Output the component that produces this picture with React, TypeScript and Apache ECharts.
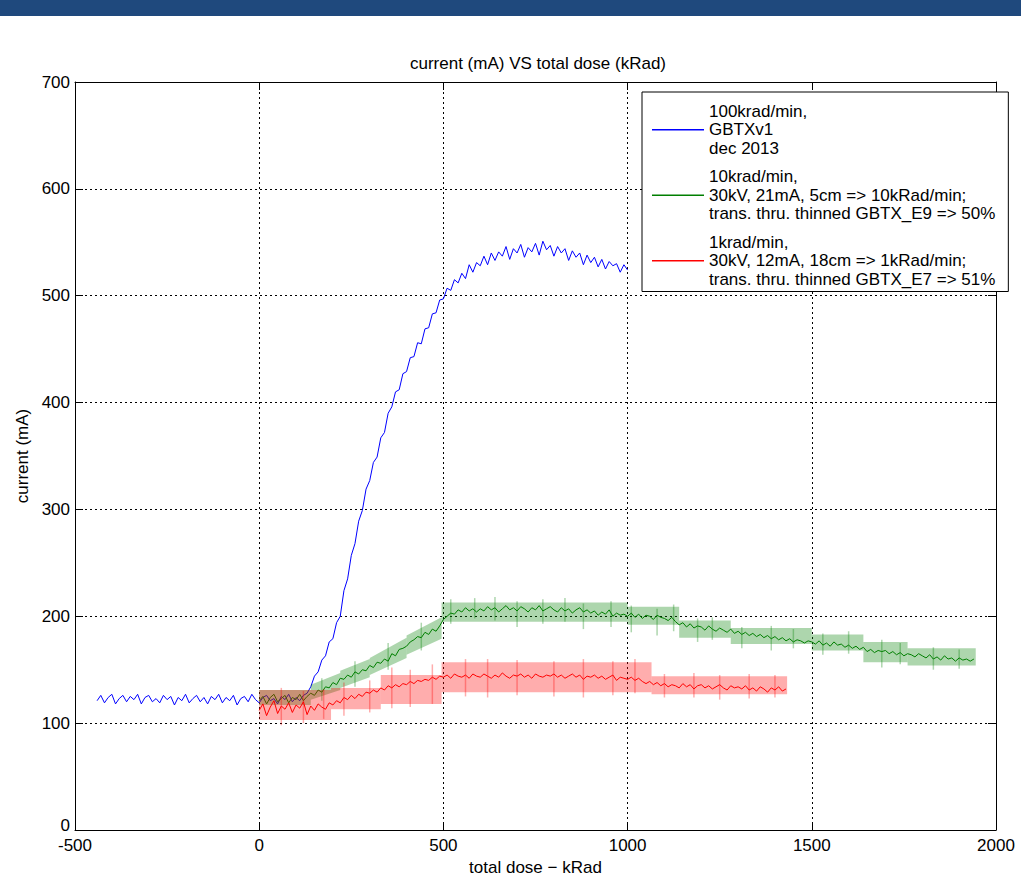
import React, { useEffect, useRef } from 'react';
import * as echarts from 'echarts';

const TITLE = 'current (mA) VS total dose (kRad)';
const X_NAME = 'total dose − kRad';
const Y_NAME = 'current (mA)';
const X_TICKS = [-500, 0, 500, 1000, 1500, 2000];
const Y_TICKS = [0, 100, 200, 300, 400, 500, 600, 700];

const SERIES_NAMES = [
  '100krad/min,\nGBTXv1\ndec 2013',
  '10krad/min,\n30kV, 21mA, 5cm => 10kRad/min;\ntrans. thru. thinned GBTX_E9 => 50%',
  '1krad/min,\n30kV, 12mA, 18cm => 1kRad/min;\ntrans. thru. thinned GBTX_E7 => 51%',
];
const COLORS = ['#0000ff', '#007f00', '#ff0000'];
const BAND_COLORS = ['rgba(0,128,0,0.32)', 'rgba(255,0,0,0.32)'];

// blue: 100krad/min, dose from -440 kRad in 10 kRad steps
const BLUE_START = -440;
const BLUE_STEP = 10;
const BLUE_CURRENT = [
  121, 126, 119, 124, 127, 118, 123, 126, 120, 125,
  122, 127, 118, 124, 126, 120, 123, 119, 126, 122,
  125, 117, 124, 121, 127, 119, 123, 126, 120, 124,
  118, 125, 122, 127, 119, 124, 121, 126, 117, 123,
  125, 120, 127, 122, 119, 124, 126, 121, 123, 118,
  125, 122, 127, 120, 124, 121, 126, 128,
  134, 144, 148, 159, 163, 176, 179, 194, 200, 224,
  235, 257, 268, 289, 299, 319, 327, 344, 349, 367,
  372, 390, 396, 410, 412, 427, 429, 442, 443, 456,
  455, 469, 470, 483, 484, 496, 497, 507, 505, 515,
  512, 521, 516, 529, 522, 531, 528, 537, 529, 540,
  533, 541, 537, 546, 534, 544, 540, 548, 536, 545,
  541, 549, 538, 551, 543, 547, 537, 546, 540, 544,
  533, 542, 536, 540, 529, 538, 531, 536, 527, 534,
  525, 532, 528, 530, 522, 529, 524,
];

// green: 10krad/min, dose from 0 kRad in 10 kRad steps
const GREEN_START = 0;
const GREEN_STEP = 10;
const GREEN_CURRENT = [
  121, 125, 118, 124, 127, 120, 123, 126, 119, 124,
  122, 127, 121, 125, 128, 126, 131, 129, 134, 133,
  138, 136, 142, 141, 145, 143, 148, 146, 150, 149,
  154, 152, 157, 156, 160, 158, 165, 163, 169, 170,
  172, 176, 178, 181, 180, 185, 183, 188, 186, 191,
  197, 200, 203, 202, 206, 204, 208, 205, 207, 204,
  207, 205, 209, 206, 208, 204, 207, 210, 206, 208,
  205, 209, 207, 204, 208, 206, 210, 205, 207, 209,
  206, 204, 208, 205, 207, 203, 206, 208, 204, 206,
  203, 205, 201, 204, 202, 206, 200, 203, 201, 202,
  200, 203, 199, 202, 198, 201, 200, 197, 201, 199,
  198, 196, 199, 195, 192, 194, 190, 193, 189, 191,
  190, 187, 191, 188, 186, 189, 187, 185, 188, 184,
  186, 183, 185, 182, 184, 181, 183, 180, 182, 179,
  181, 178, 180, 177, 179, 176, 178, 177, 175, 177,
  176, 174, 177, 173, 175, 172, 176, 173, 174, 171,
  173, 170, 172, 169, 171, 167, 169, 166, 168, 167,
  168, 165, 167, 164, 166, 163, 165, 164, 162, 165,
  163, 161, 164, 160, 162, 159, 163, 160, 161, 158,
  161, 159, 160, 158, 160,
];

// red: 1krad/min, dose from 0 kRad in 10 kRad steps
const RED_START = 0;
const RED_STEP = 10;
const RED_CURRENT = [
  112, 118, 107, 115, 121, 109, 116, 113, 119, 110,
  117, 114, 120, 108, 116, 112, 118, 115, 113, 119,
  117, 121, 119, 124, 122, 126, 123, 127, 125, 129,
  128, 131, 129, 133, 131, 135, 133, 136, 134, 137,
  136, 139, 137, 140, 139, 141, 140, 143, 141, 144,
  143, 145, 142, 146, 144, 143, 145, 142, 146, 144,
  143, 146, 144, 142, 145, 143, 147, 144, 142, 145,
  144, 146, 143, 145, 142, 146, 144, 143, 145, 144,
  146, 143, 145, 142, 144, 146, 143, 145, 141, 144,
  143, 145, 142, 144, 141, 143, 145, 140, 143, 142,
  141, 143, 140, 142, 139, 137, 139, 136, 138, 135,
  137, 134, 136, 135, 133, 137, 134, 136, 132, 135,
  136, 133, 135, 132, 134, 136, 133, 131, 135, 133,
  134, 132, 135, 131, 133, 130, 134, 132, 129, 133,
  131, 134, 130, 132,
];

// error bands: [dose from, dose to, low at from, high at from, low at to, high at to]
const GREEN_BAND = [
  [0, 140, 117, 131, 117, 131],
  [140, 220, 122, 136, 131, 147],
  [220, 300, 133, 149, 143, 160],
  [300, 400, 145, 161, 161, 180],
  [400, 495, 164, 182, 179, 199],
  [495, 1000, 195, 213, 195, 213],
  [1000, 1140, 192, 209, 192, 209],
  [1140, 1280, 180, 196, 180, 196],
  [1280, 1500, 174, 189, 174, 189],
  [1500, 1640, 168, 183, 168, 183],
  [1640, 1760, 157, 176, 157, 176],
  [1760, 1945, 154, 170, 154, 170],
];
const RED_BAND = [
  [0, 195, 103, 131, 103, 131],
  [195, 330, 113, 133, 113, 133],
  [330, 495, 118, 145, 118, 145],
  [495, 1065, 129, 157, 129, 157],
  [1065, 1433, 127, 144, 127, 144],
];
// single error bars sticking out of the bands: [dose, low, high]
const GREEN_SPIKES = [
  [170, 121, 142], [260, 134, 158], [350, 150, 175], [440, 168, 194], [520, 193, 216],
  [585, 198, 217], [640, 196, 218], [700, 190, 214], [770, 193, 216], [830, 195, 217],
  [880, 188, 212], [955, 190, 214], [1010, 185, 210], [1080, 182, 207], [1125, 186, 211],
  [1190, 176, 198], [1230, 178, 199], [1310, 170, 190], [1390, 168, 191], [1450, 170, 188],
  [1530, 164, 184], [1600, 165, 186], [1690, 152, 178], [1740, 155, 175], [1830, 150, 171],
  [1900, 151, 169],
];
const RED_SPIKES = [
  [60, 98, 133], [120, 100, 130], [175, 104, 132], [230, 107, 138], [300, 110, 140],
  [360, 114, 152], [410, 115, 150], [470, 118, 155], [560, 125, 160], [620, 124, 160],
  [700, 126, 159], [800, 125, 158], [880, 124, 160], [960, 126, 158], [1020, 128, 160],
  [1100, 124, 146], [1180, 124, 147], [1250, 122, 145], [1330, 123, 146], [1400, 124, 145],
];

const FONT = "'Liberation Sans', Arial, Helvetica, sans-serif";

function toPairs(start: number, step: number, values: number[]) {
  return values.map((v, i) => [start + i * step, v]);
}

function bandSeries(data: number[][], color: string, z: number) {
  return {
    type: 'custom',
    xAxisIndex: 0,
    yAxisIndex: 0,
    z,
    silent: true,
    clip: true,
    encode: { x: [0, 1], y: [2, 3, 4, 5] },
    data,
    renderItem: (params: any, api: any) => {
      const a = api.coord([api.value(0), api.value(2)]);
      const b = api.coord([api.value(0), api.value(3)]);
      const c = api.coord([api.value(1), api.value(5)]);
      const d = api.coord([api.value(1), api.value(4)]);
      return {
        type: 'polygon',
        shape: { points: [a, b, c, d] },
        style: { fill: color, stroke: null },
      };
    },
  };
}

function spikeSeries(data: number[][], color: string, z: number) {
  return {
    type: 'custom',
    xAxisIndex: 0,
    yAxisIndex: 0,
    z,
    silent: true,
    clip: true,
    encode: { x: 0, y: [1, 2] },
    data,
    renderItem: (params: any, api: any) => {
      const a = api.coord([api.value(0), api.value(1)]);
      const b = api.coord([api.value(0), api.value(2)]);
      return {
        type: 'line',
        shape: { x1: a[0], y1: a[1], x2: b[0], y2: b[1] },
        style: { stroke: color, lineWidth: 1.5 },
      };
    },
  };
}

export default function App() {
  const ref = useRef<HTMLDivElement>(null);
  useEffect(() => {
    if (!ref.current) return;
    const chart = echarts.init(ref.current, undefined, { renderer: 'svg' });
    const xMin = X_TICKS[0];
    const xMax = X_TICKS[X_TICKS.length - 1];
    const xInt = X_TICKS[1] - X_TICKS[0];
    const yMin = Y_TICKS[0];
    const yMax = Y_TICKS[Y_TICKS.length - 1];
    const yInt = Y_TICKS[1] - Y_TICKS[0];
    const axisLine = { show: true, onZero: false, lineStyle: { color: '#000', width: 1 } };
    const axisTick = { show: true, inside: true, length: 8, lineStyle: { color: '#000', width: 1 } };
    const splitLine = { show: true, lineStyle: { color: '#000', width: 1, type: [2, 3] } };
    const labelStyle = { fontSize: 17, color: '#000', fontFamily: FONT };
    const option: any = {
      animation: false,
      backgroundColor: '#ffffff',
      textStyle: { fontFamily: FONT },
      title: {
        text: TITLE,
        left: 533,
        top: 50,
        textAlign: 'center',
        textStyle: { fontSize: 17, fontWeight: 'normal', color: '#000', fontFamily: FONT },
      },
      graphic: [
        { type: 'rect', left: 0, top: 0, shape: { width: 1021, height: 16 }, style: { fill: '#1f497d' }, z: 100 },
      ],
      grid: { left: 75, right: 25, top: 82, bottom: 66, containLabel: false },
      legend: {
        data: SERIES_NAMES,
        orient: 'vertical',
        left: 642,
        top: 92,
        icon: 'rect',
        itemWidth: 52,
        itemHeight: 1.3,
        itemGap: 10,
        padding: [10, 13, 3, 10],
        backgroundColor: '#fff',
        borderColor: '#000',
        borderWidth: 1,
        selectedMode: false,
        z: 50,
        textStyle: { fontSize: 17, lineHeight: 18.5, color: '#000', fontFamily: FONT },
      },
      xAxis: [
        {
          type: 'value', min: xMin, max: xMax, interval: xInt, position: 'bottom',
          name: X_NAME, nameLocation: 'middle', nameGap: 27,
          nameTextStyle: labelStyle,
          axisLine, axisTick,
          axisLabel: { ...labelStyle, margin: 7, formatter: (v: number) => String(v) },
          splitLine,
        },
        {
          type: 'value', min: xMin, max: xMax, interval: xInt, position: 'top',
          axisLine, axisTick, axisLabel: { show: false }, splitLine: { show: false },
        },
      ],
      yAxis: [
        {
          type: 'value', min: yMin, max: yMax, interval: yInt, position: 'left',
          name: Y_NAME, nameLocation: 'middle', nameGap: 30, nameRotate: 90,
          nameTextStyle: labelStyle,
          axisLine, axisTick,
          axisLabel: {
            ...labelStyle,
            margin: 5,
            formatter: (v: number) => (v === yMin ? '{lift|' + v + '}' : String(v)),
            rich: { lift: { ...labelStyle, padding: [0, 0, 10, 0] } },
          },
          splitLine,
        },
        {
          type: 'value', min: yMin, max: yMax, interval: yInt, position: 'right',
          axisLine, axisTick, axisLabel: { show: false }, splitLine: { show: false },
        },
      ],
      series: [
        {
          name: SERIES_NAMES[0], type: 'line', xAxisIndex: 0, yAxisIndex: 0, z: 2,
          symbol: 'none', data: toPairs(BLUE_START, BLUE_STEP, BLUE_CURRENT),
          lineStyle: { color: COLORS[0], width: 1 }, itemStyle: { color: COLORS[0] },
        },
        bandSeries(GREEN_BAND, BAND_COLORS[0], 3),
        spikeSeries(GREEN_SPIKES, BAND_COLORS[0], 3),
        {
          name: SERIES_NAMES[1], type: 'line', xAxisIndex: 0, yAxisIndex: 0, z: 4,
          symbol: 'none', data: toPairs(GREEN_START, GREEN_STEP, GREEN_CURRENT),
          lineStyle: { color: COLORS[1], width: 1 }, itemStyle: { color: COLORS[1] },
        },
        bandSeries(RED_BAND, BAND_COLORS[1], 5),
        spikeSeries(RED_SPIKES, BAND_COLORS[1], 5),
        {
          name: SERIES_NAMES[2], type: 'line', xAxisIndex: 0, yAxisIndex: 0, z: 6,
          symbol: 'none', data: toPairs(RED_START, RED_STEP, RED_CURRENT),
          lineStyle: { color: COLORS[2], width: 1 }, itemStyle: { color: COLORS[2] },
        },
      ],
    };
    chart.setOption(option);
    return () => chart.dispose();
  }, []);
  return (
    <div
      ref={ref}
      style={{ position: 'absolute', left: 0, top: 0, width: 1021, height: 896, background: '#fff' }}
    />
  );
}
